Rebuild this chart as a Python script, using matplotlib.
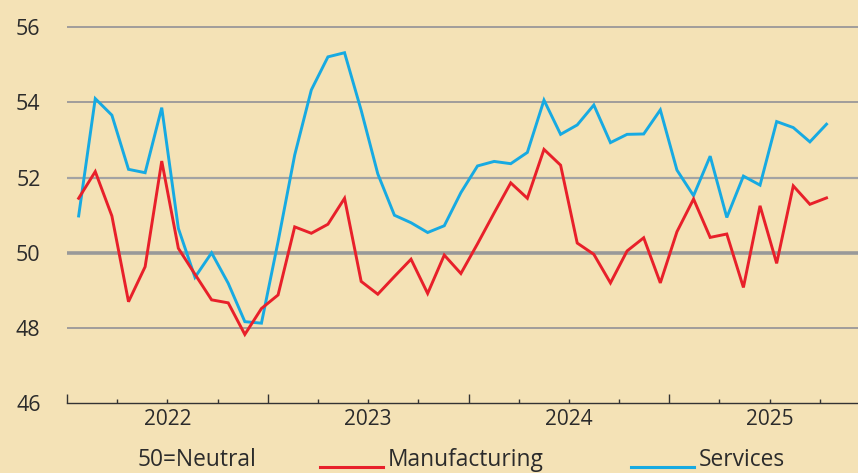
import numpy as np
import matplotlib.pyplot as plt
from matplotlib.lines import Line2D

# monthly PMI readings, Jan 2022 onwards
manufacturing = [51.45, 52.16, 50.98, 48.7, 49.63, 52.44, 50.12, 49.43, 48.75, 48.67,
                 47.83, 48.52, 48.88, 50.69, 50.52, 50.76, 51.45, 49.24, 48.9, 49.37,
                 49.83, 48.92, 49.94, 49.45, 50.24, 51.06, 51.86, 51.45, 52.75, 52.33,
                 50.26, 49.96, 49.2, 50.05, 50.4, 49.2, 50.56, 51.43, 50.41, 50.5,
                 49.08, 51.25, 49.72, 51.78, 51.29, 51.46]
services = [50.98, 54.1, 53.66, 52.22, 52.13, 53.86, 50.65, 49.35, 50.0, 49.19,
            48.17, 48.13, 50.3, 52.6, 54.33, 55.21, 55.32, 53.79, 52.1, 51.0,
            50.8, 50.54, 50.72, 51.6, 52.31, 52.43, 52.37, 52.67, 54.06, 53.15,
            53.4, 53.93, 52.93, 53.15, 53.16, 53.8, 52.2, 51.52, 52.57, 50.94,
            52.04, 51.8, 53.49, 53.33, 52.95, 53.42]
years = ['2022', '2023', '2024', '2025']
y_ticks = [46, 48, 50, 52, 54, 56]

bg = '#F4E2B6'
txt = '#2b2b2b'
red = '#E8202A'
blue = '#17AAE2'

plt.rcParams['font.family'] = ['Open Sans', 'DejaVu Sans']

fig = plt.figure(figsize=(8.58, 4.73), dpi=100)
fig.patch.set_facecolor(bg)
ax = fig.add_axes([0.0781, 0.1474, 0.922, 0.8103])
ax.set_facecolor(bg)

x = np.arange(len(manufacturing))

# horizontal reference lines
for v in [48, 54, 56]:
    ax.axhline(v, color='#8a8a94', lw=1.1, zorder=1)
ax.axhline(52, color='#a3a3a3', lw=1.6, zorder=1)
ax.axhline(50, color='#999999', lw=2.6, zorder=1)

ax.plot(x, services, color=blue, lw=2.1, zorder=3, solid_joinstyle='miter')
ax.plot(x, manufacturing, color=red, lw=2.1, zorder=4, solid_joinstyle='miter')

ax.set_xlim(-0.7, 46.9)
ax.set_ylim(46, 56.19)

ticks = -0.7 + 3.02 * np.arange(16)
ax.set_xticks(ticks[::4])
ax.set_xticks(ticks, minor=True)
ax.set_xticklabels([])
ax.tick_params(axis='x', which='major', direction='in', length=6.5, width=1, color='#333333')
ax.tick_params(axis='x', which='minor', direction='in', length=3.2, width=1, color='#333333')

ax.set_yticks(y_ticks)
ax.set_yticklabels([str(t) for t in y_ticks], fontsize=15.5, color=txt)
ax.tick_params(axis='y', length=0, pad=19)

for s in ['top', 'right', 'left']:
    ax.spines[s].set_visible(False)
ax.spines['bottom'].set_color('#333333')
ax.spines['bottom'].set_linewidth(1)

for k, yr in enumerate(years):
    ax.text(ticks[2 + 4 * k], 45.58, yr, ha='center', va='center',
            fontsize=15, color=txt, clip_on=False)

# legend row
ly = 1 - 460 / 473
fig.text(138 / 858, ly, '50=Neutral', fontsize=16.4, color=txt, va='center', ha='left')
fig.add_artist(Line2D([320 / 858, 383 / 858], [1 - 466.5 / 473] * 2, color=red, lw=2.2))
fig.text(388 / 858, ly, 'Manufacturing', fontsize=16.4, color=txt, va='center', ha='left')
fig.add_artist(Line2D([631 / 858, 694 / 858], [1 - 466.5 / 473] * 2, color=blue, lw=2.2))
fig.text(699 / 858, ly, 'Services', fontsize=16.4, color=txt, va='center', ha='left')

fig.savefig('out.png', dpi=100, facecolor=bg)
